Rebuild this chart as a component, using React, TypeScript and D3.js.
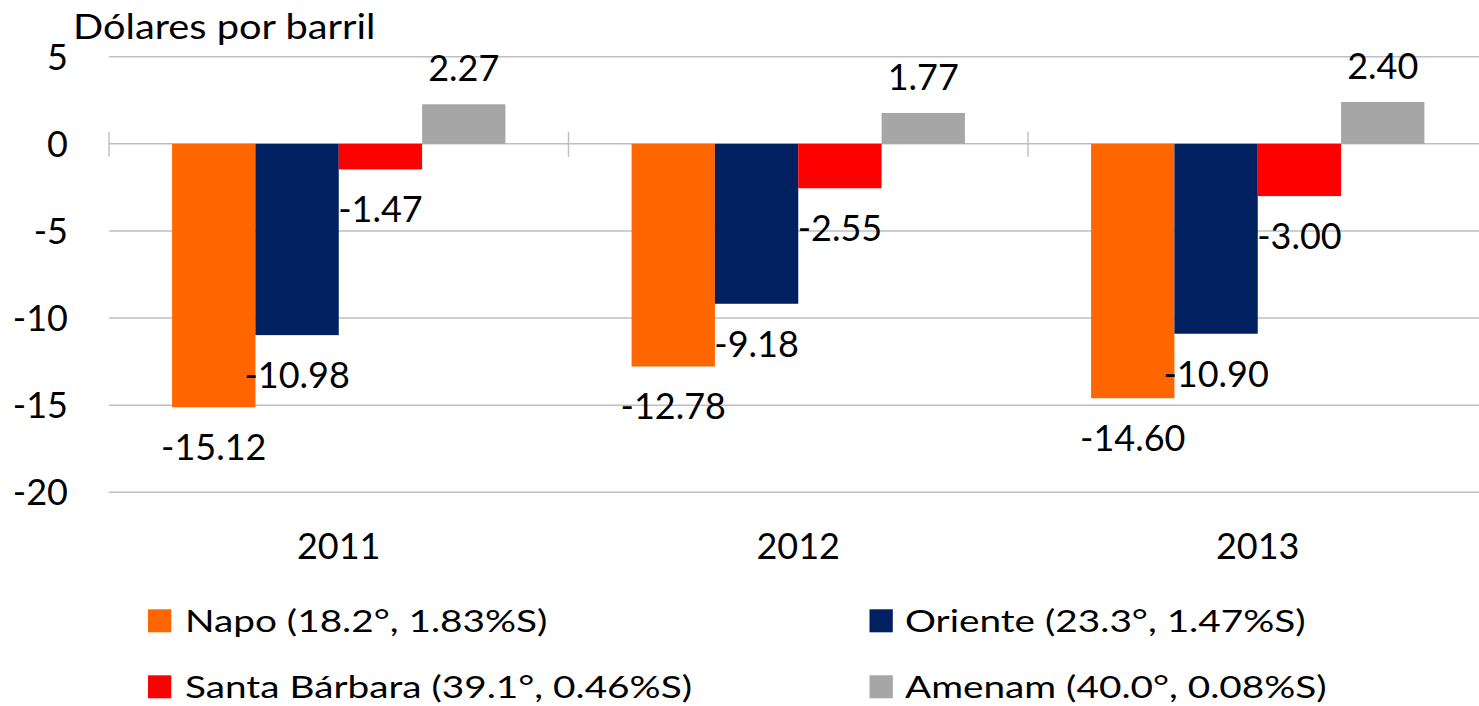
import React from "react";
import * as d3 from "d3";

const years = ["2011", "2012", "2013"];
const seriesNames = [
  "Napo (18.2°, 1.83%S)",
  "Oriente (23.3°, 1.47%S)",
  "Santa Bárbara (39.1°, 0.46%S)",
  "Amenam (40.0°, 0.08%S)",
];
const napo = [-15.12, -12.78, -14.6];
const oriente = [-10.98, -9.18, -10.9];
const santaBarbara = [-1.47, -2.55, -3.0];
const amenam = [2.27, 1.77, 2.4];
const yTicks = [5, 0, -5, -10, -15, -20];
const colors = ["#FF6600", "#002060", "#FF0000", "#A6A6A6"];
const yTitle = "Dólares por barril";

const W = 1479;
const H = 706;
const FONT = "Lato, 'Open Sans', sans-serif";

export default function App() {
  const series = [napo, oriente, santaBarbara, amenam];
  const y = d3.scaleLinear().domain([-20, 5]).range([492.3, 56.7]);
  const left = 109;
  const catW = 459.5;
  const x0 = d3
    .scaleBand()
    .domain(years)
    .range([left, left + catW * years.length])
    .padding(0);
  const gapFrac = 0.2746; // Excel gap width ~151%
  const x1 = d3
    .scaleBand()
    .domain(seriesNames)
    .range([(catW * gapFrac) / 2, catW - (catW * gapFrac) / 2])
    .padding(0);
  const fmt = (v: number) => d3.format(".2f")(v).replace("\u2212", "-");

  const legendItems = seriesNames.map((name, i) => ({
    name,
    color: colors[i],
    col: i % 2,
    row: Math.floor(i / 2),
  }));

  return (
    <svg
      width={W}
      height={H}
      style={{ position: "absolute", left: 0, top: 0, background: "#fff" }}
      fontFamily={FONT}
    >
      <rect x={0} y={0} width={W} height={H} fill="#fff" />
      {/* gridlines */}
      {yTicks.map((t) => (
        <line
          key={"g" + t}
          x1={left}
          x2={W}
          y1={y(t)}
          y2={y(t)}
          stroke="#BFBFBF"
          strokeWidth={1.4}
        />
      ))}
      {/* category tick marks on zero axis */}
      {[...years.map((yr) => x0(yr) as number), left + catW * years.length].map(
        (xx, i) => (
          <line
            key={"tk" + i}
            x1={xx}
            x2={xx}
            y1={y(0) - 12}
            y2={y(0) + 13}
            stroke="#BFBFBF"
            strokeWidth={1.4}
          />
        )
      )}
      {/* y tick labels */}
      {yTicks.map((t) => (
        <text
          key={"yt" + t}
          x={68}
          y={y(t) + 13}
          textAnchor="end"
          fontSize={36}
          fill="#000"
        >
          {String(t)}
        </text>
      ))}
      {/* bars */}
      {series.map((vals, si) =>
        vals.map((v, yi) => {
          const bx = (x0(years[yi]) as number) + (x1(seriesNames[si]) as number);
          const top = Math.min(y(v), y(0));
          const h = Math.abs(y(v) - y(0));
          return (
            <rect
              key={`b${si}-${yi}`}
              x={bx}
              y={top}
              width={x1.bandwidth()}
              height={h}
              fill={colors[si]}
            />
          );
        })
      )}
      {/* data labels */}
      {series.map((vals, si) =>
        vals.map((v, yi) => {
          const cx =
            (x0(years[yi]) as number) +
            (x1(seriesNames[si]) as number) +
            x1.bandwidth() / 2;
          const ly = v < 0 ? y(v) + 53 : y(v) - 23;
          return (
            <text
              key={`l${si}-${yi}`}
              x={cx}
              y={ly}
              textAnchor="middle"
              fontSize={36}
              fill="#000"
            >
              {fmt(v)}
            </text>
          );
        })
      )}
      {/* x labels */}
      {years.map((yr) => (
        <text
          key={"x" + yr}
          x={(x0(yr) as number) + x0.bandwidth() / 2}
          y={559}
          textAnchor="middle"
          fontSize={36}
          fill="#000"
        >
          {yr}
        </text>
      ))}
      {/* title */}
      <text
        transform="translate(73,39) scale(1.17,1)"
        fontSize={34}
        fill="#000"
      >
        {yTitle}
      </text>
      {/* legend */}
      {legendItems.map((it) => {
        const sx = it.col === 0 ? 148 : 869.5;
        const tx = it.col === 0 ? 185 : 905;
        const top = 609.3 + it.row * 66;
        return (
          <g key={it.name}>
            <rect x={sx} y={top} width={23.3} height={23} fill={it.color} />
            <text
              transform={`translate(${tx},${top + 22.7}) scale(1.25,1)`}
              fontSize={31}
              fill="#000"
            >
              {it.name}
            </text>
          </g>
        );
      })}
    </svg>
  );
}
